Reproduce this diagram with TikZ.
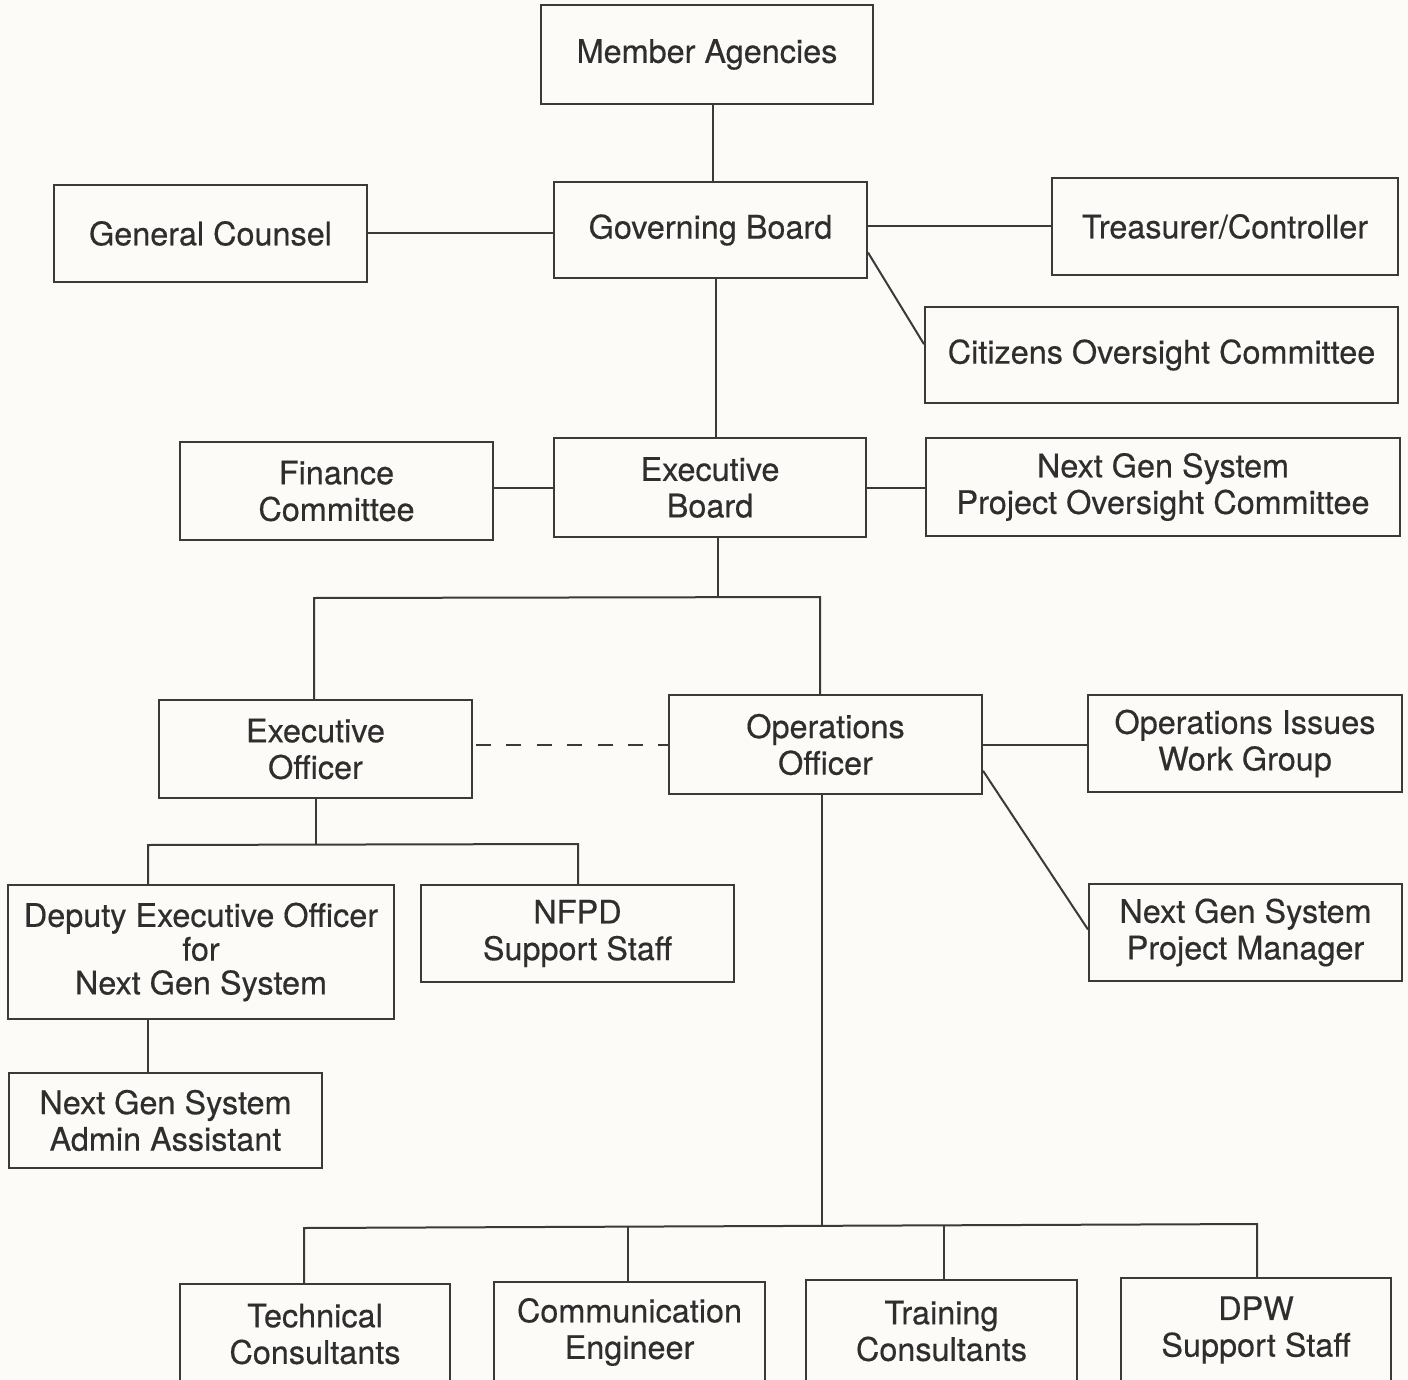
\documentclass[tikz,border=0pt]{standalone}
\usepackage{fontspec}
\setmainfont{TeX Gyre Heros}[FakeBold=0.4]
\usetikzlibrary{calc}
\definecolor{bg}{HTML}{FCFBF7}
\definecolor{ink}{HTML}{3A3A3A}
\definecolor{txt}{HTML}{2E2E2E}
\tikzset{
  box/.style={draw=ink, line width=1pt, fill=bg, inner sep=0pt, align=center,
    text=txt, font=\fontsize{16.2}{18.3}\selectfont},
  conn/.style={draw=ink, line width=1pt},
  dashconn/.style={conn, dash pattern=on 7.5pt off 7.7pt}
}
\newcommand\bx[6]{\node[box, minimum width={(#4-#2)*0.5pt}, minimum height={(#5-#3)*0.5pt}] (#1) at ({(#2+#4)/2},{(#3+#5)/2}) {#6};}
\begin{document}
\begin{tikzpicture}[x=0.5pt,y=-0.5pt]
\fill[bg] (0,0) rectangle (1408,1380);
\clip (0,0) rectangle (1408,1380);
\bx{ma}{541}{5}{873}{104}{Member Agencies}
\bx{gc}{54}{185}{367}{282}{General Counsel}
\bx{gb}{554}{182}{867}{278}{Governing Board}
\bx{tr}{1052}{178}{1398}{275}{Treasurer/Controller}
\bx{coc}{925}{307}{1398}{403}{Citizens Oversight Committee}
\bx{fc}{180}{442}{493}{540}{Finance\\Committee}
\bx{eb}{554}{438}{866}{537}{Executive\\Board}
\bx{poc}{926}{438}{1400}{536}{Next Gen System\\Project Oversight Committee}
\bx{eo}{159}{700}{472}{798}{Executive\\Officer}
\bx{oo}{669}{695}{982}{794}{Operations\\Officer}
\bx{oi}{1088}{695}{1402}{792}{Operations Issues\\Work Group}
\bx{pm}{1089}{884}{1402}{981}{Next Gen System\\Project Manager}
\node[box, font=\fontsize{16.2}{16.9}\selectfont, minimum width={386*0.5pt}, minimum height={134*0.5pt}] (dep) at (201,952) {Deputy Executive Officer\\for\\Next Gen System};
\bx{nf}{421}{885}{734}{982}{NFPD\\Support Staff}
\bx{ad}{9}{1073}{322}{1168}{Next Gen System\\Admin Assistant}
\bx{tc}{180}{1284}{450}{1384}{Technical\\Consultants}
\bx{ce}{494}{1282}{765}{1382}{Communication\\Engineer}
\bx{tn}{806}{1280}{1077}{1382}{Training\\Consultants}
\bx{dpw}{1121}{1278}{1391}{1382}{DPW\\Support Staff}
% coordinates for bus lines
\coordinate (c1) at (713,0);
\coordinate (c2) at (716,0);
\coordinate (b1) at (718,597);
\coordinate (b1l) at (314,598);
\coordinate (b1r) at (820,597);
\coordinate (b2) at (316,845);
\coordinate (b2l) at (148,845);
\coordinate (b2r) at (578,844);
\coordinate (b3) at (822,1226);
\coordinate (b3a) at (304,1228);
\coordinate (b3b) at (628,1227);
\coordinate (b3c) at (944,1225);
\coordinate (b3d) at (1257,1224);
% connectors
\draw[conn] (c1 |- ma.south) -- (c1 |- gb.north);
\draw[conn] (gc.east) -- (gc.east -| gb.west);
\draw[conn] (tr.west -| gb.east) -- (tr.west);
\draw[conn] ($(gb.north east)!0.73!(gb.south east)$) -- ($(coc.north west)!0.39!(coc.south west)$);
\draw[conn] (c2 |- gb.south) -- (c2 |- eb.north);
\draw[conn] (eb.west -| fc.east) -- (eb.west);
\draw[conn] (eb.east) -- (eb.east -| poc.west);
\draw[conn] (b1 |- eb.south) -- (b1);
\draw[conn] (b1l |- eo.north) -- (b1l) -- (b1r) -- (b1r |- oo.north);
\draw[dashconn] ([xshift=1.5pt]oo.west -| eo.east) -- (oo.west);
\draw[conn] (oo.east) -- (oo.east -| oi.west);
\draw[conn] ($(oo.north east)!0.76!(oo.south east)$) -- ($(pm.north west)!0.47!(pm.south west)$);
\draw[conn] (b2 |- eo.south) -- (b2);
\draw[conn] (b2l |- dep.north) -- (b2l) -- (b2r) -- (b2r |- nf.north);
\draw[conn] (b2l |- dep.south) -- (b2l |- ad.north);
\draw[conn] (b3 |- oo.south) -- (b3);
\draw[conn] (b3a |- tc.north) -- (b3a) -- (b3d) -- (b3d |- dpw.north);
\draw[conn] (b3b) -- (b3b |- ce.north);
\draw[conn] (b3c) -- (b3c |- tn.north);
\end{tikzpicture}
\end{document}
